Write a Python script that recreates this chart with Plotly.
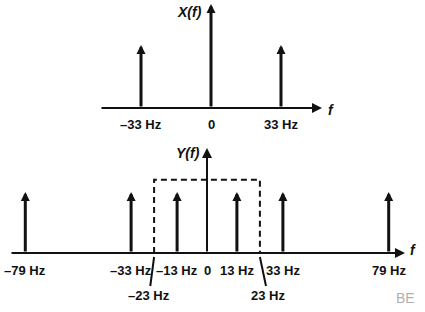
import plotly.graph_objects as go

# ---- data ----
x_freqs = [-33, 0, 33]          # Hz, spectrum X(f)
x_amps = [1.0, 1.65, 1.0]
x_labels = ["–33 Hz", "0", "33 Hz"]

y_freqs = [-79, -33, -13, 13, 33, 79]   # Hz, spectrum Y(f)
y_amps = [1.0, 1.0, 1.0, 1.0, 1.0, 1.0]
y_label_freqs = [-79, -33, -13, 0, 13, 33, 79]
y_labels = ["–79 Hz", "–33 Hz", "–13 Hz", "0", "13 Hz", "33 Hz", "79 Hz"]
cutoff = 23
cutoff_labels = ["–23 Hz", "23 Hz"]
filter_gain = 1.2

W, H = 425, 312
FONT = "Liberation Sans, Arial, sans-serif"
BLACK = "#111111"

fig = go.Figure()

# dashed ideal low-pass filter
fig.add_trace(go.Scatter(
    x=[-cutoff, -cutoff, cutoff, cutoff],
    y=[0, filter_gain, filter_gain, 0],
    mode="lines", xaxis="x2", yaxis="y2",
    line=dict(color=BLACK, width=2, dash="6px,4px"),
    hoverinfo="skip", showlegend=False))

ann = []

# axes with arrows (decoration)
ann.append(dict(xref="paper", yref="y", x=322 / W, y=0, ax=-222, ay=0,
                axref="pixel", ayref="pixel", text="", showarrow=True,
                arrowhead=2, arrowsize=1.0, arrowwidth=2, arrowcolor=BLACK))
ann.append(dict(xref="paper", yref="y2", x=405 / W, y=0, ax=-395, ay=0,
                axref="pixel", ayref="pixel", text="", showarrow=True,
                arrowhead=2, arrowsize=1.0, arrowwidth=2, arrowcolor=BLACK))
ann.append(dict(xref="x2", yref="y2", x=0, y=1.72, ax=0, ay=0,
                axref="x2", ayref="y2", text="", showarrow=True,
                arrowhead=2, arrowsize=1.0, arrowwidth=2, arrowcolor=BLACK))

# impulses of X(f)
for f, a in zip(x_freqs, x_amps):
    ann.append(dict(xref="x", yref="y", x=f, y=a, ax=f, ay=0,
                    axref="x", ayref="y", text="", showarrow=True,
                    arrowhead=2, arrowsize=0.6, arrowwidth=3, arrowcolor=BLACK))
# impulses of Y(f)
for f, a in zip(y_freqs, y_amps):
    ann.append(dict(xref="x2", yref="y2", x=f, y=a, ax=f, ay=0,
                    axref="x2", ayref="y2", text="", showarrow=True,
                    arrowhead=2, arrowsize=0.6, arrowwidth=3, arrowcolor=BLACK))

tf = dict(family=FONT, size=13, color=BLACK, weight="bold")
itf = dict(family=FONT, size=14, color=BLACK, style="italic", weight="bold")

for f, t in zip(x_freqs, x_labels):
    ann.append(dict(xref="x", yref="y", x=f, y=0, yshift=-16, text=t,
                    showarrow=False, font=tf))
for f, t in zip(y_label_freqs, y_labels):
    ann.append(dict(xref="x2", yref="y2", x=f, y=0, yshift=-17, text=t,
                    showarrow=False, font=tf))

# cutoff labels with pointers
ann.append(dict(xref="x2", yref="y2", x=-cutoff, y=0, yshift=-4,
                ax=-5, ay=38, text=cutoff_labels[0], showarrow=True,
                arrowhead=0, arrowwidth=2, arrowcolor=BLACK, font=tf, standoff=0))
ann.append(dict(xref="x2", yref="y2", x=cutoff, y=0, yshift=-4,
                ax=8, ay=38, text=cutoff_labels[1], showarrow=True,
                arrowhead=0, arrowwidth=2, arrowcolor=BLACK, font=tf, standoff=0))

# axis names
ann.append(dict(xref="paper", yref="paper", x=204 / W, y=1 - 12 / H, text="X(f)",
                xanchor="right", yanchor="middle", showarrow=False, font=itf))
ann.append(dict(xref="paper", yref="paper", x=202 / W, y=1 - 153 / H, text="Y(f)",
                xanchor="right", yanchor="middle", showarrow=False, font=itf))
ann.append(dict(xref="paper", yref="paper", x=331 / W, y=1 - 110 / H, text="f",
                xanchor="center", yanchor="middle", showarrow=False, font=itf))
ann.append(dict(xref="paper", yref="paper", x=413 / W, y=1 - 250 / H, text="f",
                xanchor="center", yanchor="middle", showarrow=False, font=itf))
ann.append(dict(xref="paper", yref="paper", x=405 / W, y=1 - 298 / H, text="BE",
                xanchor="center", yanchor="middle", showarrow=False,
                font=dict(family=FONT, size=14, color="#b0b0b0")))

top_px = 140
pxhz = 2.3
x0px = 207
fig.update_layout(
    width=W, height=H, margin=dict(l=0, r=0, t=0, b=0),
    paper_bgcolor="white", plot_bgcolor="white", showlegend=False,
    xaxis=dict(domain=[0, 1], range=[-211 / 2.121, (W - 211) / 2.121],
               visible=False, anchor="y"),
    yaxis=dict(domain=[1 - top_px / H, 1], range=[-(top_px - 108) / 63, 108 / 63],
               visible=False, anchor="x"),
    xaxis2=dict(domain=[0, 1], range=[-x0px / pxhz, (W - x0px) / pxhz],
                visible=False, anchor="y2"),
    yaxis2=dict(domain=[0, 1 - top_px / H],
                range=[-(H - 253) / 61, (253 - top_px) / 61],
                visible=False, anchor="x2"),
    annotations=ann,
)

fig.write_html("out.html")
